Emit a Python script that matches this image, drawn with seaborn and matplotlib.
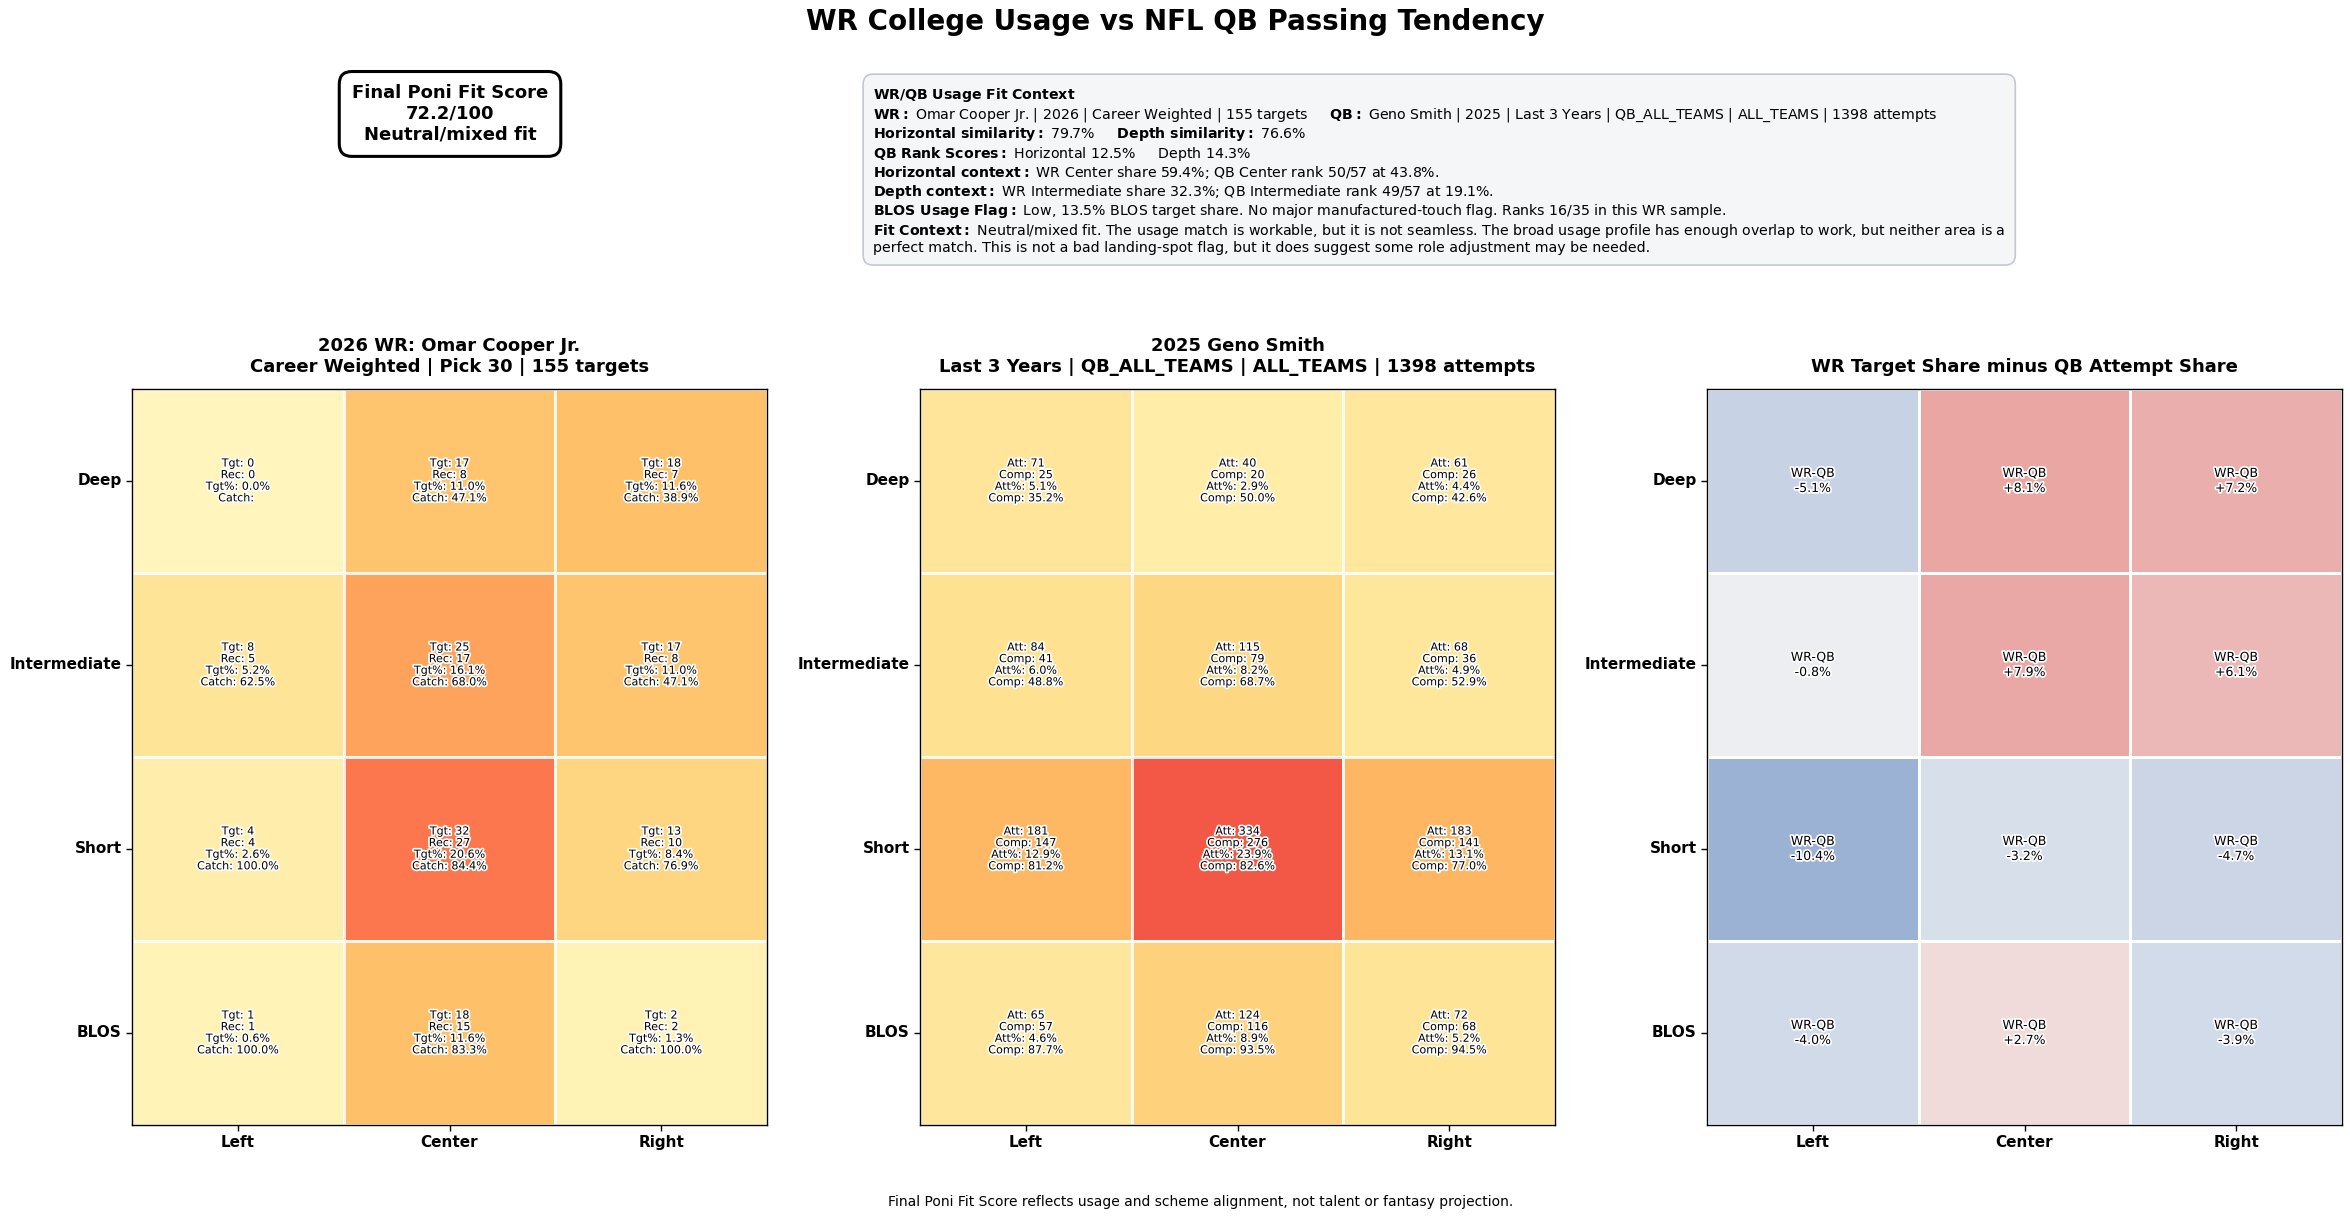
import numpy as np
import matplotlib
matplotlib.use("Agg")
import matplotlib.pyplot as plt
import matplotlib.patheffects as pe
from matplotlib.colors import LinearSegmentedColormap
import seaborn as sns

# zone labels
depths = ["Deep", "Intermediate", "Short", "BLOS"]
sides = ["Left", "Center", "Right"]

# WR college usage (rows = depth, cols = side)
wr_tgt = [[0, 17, 18], [8, 25, 17], [4, 32, 13], [1, 18, 2]]
wr_rec = [[0, 8, 7], [5, 17, 8], [4, 27, 10], [1, 15, 2]]
wr_tgt_pct = [[0.0, 11.0, 11.6], [5.2, 16.1, 11.0], [2.6, 20.6, 8.4], [0.6, 11.6, 1.3]]
wr_catch = [[None, 47.1, 38.9], [62.5, 68.0, 47.1], [100.0, 84.4, 76.9], [100.0, 83.3, 100.0]]

# QB passing tendency
qb_att = [[71, 40, 61], [84, 115, 68], [181, 334, 183], [65, 124, 72]]
qb_comp = [[25, 20, 26], [41, 79, 36], [147, 276, 141], [57, 116, 68]]
qb_att_pct = [[5.1, 2.9, 4.4], [6.0, 8.2, 4.9], [12.9, 23.9, 13.1], [4.6, 8.9, 5.2]]
qb_comp_pct = [[35.2, 50.0, 42.6], [48.8, 68.7, 52.9], [81.2, 82.6, 77.0], [87.7, 93.5, 94.5]]

# WR target share minus QB attempt share
wr_minus_qb = [[-5.1, 8.1, 7.2], [-0.8, 7.9, 6.1], [-10.4, -3.2, -4.7], [-4.0, 2.7, -3.9]]

score_text = "Final Poni Fit Score\n72.2/100\nNeutral/mixed fit"
context_lines = [
    r"$\bf{WR/QB\ Usage\ Fit\ Context}$",
    r"$\bf{WR:}$ Omar Cooper Jr. | 2026 | Career Weighted | 155 targets     "
    r"$\bf{QB:}$ Geno Smith | 2025 | Last 3 Years | QB_ALL_TEAMS | ALL_TEAMS | 1398 attempts",
    r"$\bf{Horizontal\ similarity:}$ 79.7%     $\bf{Depth\ similarity:}$ 76.6%",
    r"$\bf{QB\ Rank\ Scores:}$ Horizontal 12.5%     Depth 14.3%",
    r"$\bf{Horizontal\ context:}$ WR Center share 59.4%; QB Center rank 50/57 at 43.8%.",
    r"$\bf{Depth\ context:}$ WR Intermediate share 32.3%; QB Intermediate rank 49/57 at 19.1%.",
    r"$\bf{BLOS\ Usage\ Flag:}$ Low, 13.5% BLOS target share. No major manufactured-touch flag. Ranks 16/35 in this WR sample.",
    r"$\bf{Fit\ Context:}$ Neutral/mixed fit. The usage match is workable, but it is not seamless. The broad usage profile has enough overlap to work, but neither area is a",
    "perfect match. This is not a bad landing-spot flag, but it does suggest some role adjustment may be needed.",
]

sns.set_theme(style="white")
plt.rcParams["font.family"] = ["DejaVu Sans"]
plt.rcParams["text.color"] = "black"
plt.rcParams["axes.labelcolor"] = "black"
plt.rcParams["xtick.color"] = "black"
plt.rcParams["ytick.color"] = "black"

fig = plt.figure(figsize=(23.5, 12.2), dpi=100)

fig.text(0.5, 0.982, "WR College Usage vs NFL QB Passing Tendency",
         ha="center", va="center", fontsize=20, fontweight="bold")

fig.text(0.1915, 0.9066, score_text, ha="center", va="center", fontsize=13,
         fontweight="bold", linespacing=1.2,
         bbox=dict(boxstyle="round,pad=0.7", facecolor="white", edgecolor="black", linewidth=2.2))

fig.text(0.3715, 0.9295, "\n".join(context_lines), ha="left", va="top", fontsize=10.15,
         linespacing=1.12,
         bbox=dict(boxstyle="round,pad=0.7", facecolor="#f5f6f8", edgecolor="#c3c8d0", linewidth=1.2))

fig.text(0.511, 0.0148, "Final Poni Fit Score reflects usage and scheme alignment, not talent or fantasy projection.",
         ha="center", va="center", fontsize=10)

# labels for the cells
wr_labels = []
qb_labels = []
diff_labels = []
for i in range(len(depths)):
    wr_row, qb_row, d_row = [], [], []
    for j in range(len(sides)):
        catch = "" if wr_catch[i][j] is None else f"{wr_catch[i][j]:.1f}%"
        wr_row.append(f"Tgt: {wr_tgt[i][j]}\nRec: {wr_rec[i][j]}\nTgt%: {wr_tgt_pct[i][j]:.1f}%\nCatch: {catch}")
        qb_row.append(f"Att: {qb_att[i][j]}\nComp: {qb_comp[i][j]}\nAtt%: {qb_att_pct[i][j]:.1f}%\nComp: {qb_comp_pct[i][j]:.1f}%")
        d_row.append(f"WR-QB\n{wr_minus_qb[i][j]:+.1f}%")
    wr_labels.append(wr_row)
    qb_labels.append(qb_row)
    diff_labels.append(d_row)

diff_cmap = LinearSegmentedColormap.from_list("fitdiff", ["#8da8cf", "#f3f3f5", "#e4817c"])

ax_w, ax_h = 0.2702, 0.6033
ax_y = 0.0779
panels = [
    (0.0562, np.array(wr_tgt_pct), wr_labels, "YlOrRd", -3, 37, 0.85, 8,
     "2026 WR: Omar Cooper Jr.\nCareer Weighted | Pick 30 | 155 targets"),
    (0.3915, np.array(qb_att_pct), qb_labels, "YlOrRd", -3, 37, 0.85, 8,
     "2025 Geno Smith\nLast 3 Years | QB_ALL_TEAMS | ALL_TEAMS | 1398 attempts"),
    (0.7264, np.array(wr_minus_qb), diff_labels, diff_cmap, -12, 12, 1.0, 9,
     "WR Target Share minus QB Attempt Share"),
]

for x0, vals, labels, cmap, vmin, vmax, alpha, fsize, title in panels:
    ax = fig.add_axes([x0, ax_y, ax_w, ax_h])
    sns.heatmap(vals, ax=ax, cmap=cmap, vmin=vmin, vmax=vmax, alpha=alpha,
                annot=np.array(labels), fmt="", cbar=False,
                linewidths=2, linecolor="white",
                annot_kws={"fontsize": fsize, "color": "black"},
                xticklabels=sides, yticklabels=depths)
    for t in ax.texts:
        t.set_path_effects([pe.withStroke(linewidth=2.5, foreground="white")])
    for s in ax.spines.values():
        s.set_visible(True)
        s.set_color("black")
        s.set_linewidth(1)
    ax.tick_params(axis="both", length=4, width=1, color="black", bottom=True, left=True)
    ax.set_yticklabels(depths, rotation=0, fontsize=11, fontweight="bold")
    ax.set_xticklabels(sides, rotation=0, fontsize=11, fontweight="bold")
    ax.set_title(title, fontsize=13, fontweight="bold", pad=12)

fig.savefig("out.png", dpi=100)
plt.close(fig)
